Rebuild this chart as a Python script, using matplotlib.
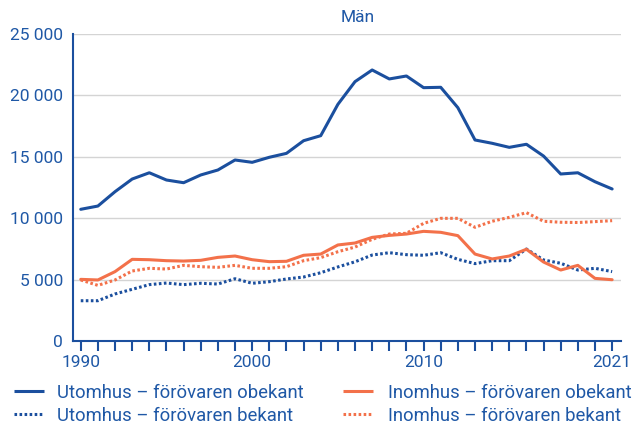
import matplotlib
matplotlib.use("Agg")
import matplotlib.pyplot as plt
from matplotlib.lines import Line2D
from matplotlib.ticker import FuncFormatter, MultipleLocator

plt.rcParams['font.family'] = ['Roboto', 'DejaVu Sans']

years = list(range(1990, 2022))

utomhus_obekant = [10725, 10990, 12160, 13190, 13700, 13110, 12890, 13520, 13925, 14740,
                   14550, 14960, 15280, 16310, 16720, 19270, 21120, 22070, 21340, 21580,
                   20630, 20660, 19000, 16370, 16100, 15770, 16020, 15060, 13600, 13700,
                   12970, 12380]
utomhus_bekant = [3280, 3280, 3830, 4210, 4590, 4720, 4590, 4700, 4640, 5070,
                  4700, 4830, 5050, 5210, 5560, 6030, 6450, 7000, 7190, 7030,
                  6980, 7190, 6650, 6300, 6540, 6540, 7490, 6600, 6330, 5780,
                  5920, 5650]
inomhus_obekant = [5020, 4970, 5650, 6650, 6620, 6540, 6510, 6570, 6810, 6920,
                   6620, 6460, 6490, 6980, 7080, 7820, 7980, 8440, 8600, 8710,
                   8930, 8850, 8580, 7080, 6680, 6920, 7470, 6430, 5780, 6160,
                   5100, 4990]
inomhus_bekant = [4970, 4530, 4970, 5700, 5920, 5860, 6160, 6050, 6000, 6160,
                  5920, 5920, 6050, 6540, 6790, 7270, 7650, 8280, 8710, 8770,
                  9580, 9990, 9990, 9260, 9750, 10070, 10450, 9750, 9670, 9650,
                  9720, 9800]

labels = ["Utomhus – förövaren obekant", "Utomhus – förövaren bekant",
          "Inomhus – förövaren obekant", "Inomhus – förövaren bekant"]
title = "Män"

BLUE = "#1b4f9e"
ORANGE = "#f3714a"
TEXT = "#1f58a6"
GRID = "#d4d4d4"

W, H = 634, 423
fig = plt.figure(figsize=(W / 100, H / 100), dpi=100)
ax = fig.add_axes([72.7 / W, 1 - 341 / H, (620.7 - 72.7) / W, (341 - 34) / H])

dot = (0, (0.85, 0.8))
series = [
    (utomhus_obekant, BLUE, '-'),
    (utomhus_bekant, BLUE, dot),
    (inomhus_obekant, ORANGE, '-'),
    (inomhus_bekant, ORANGE, dot),
]
for (vals, col, ls), lab in zip(series, labels):
    ax.plot(years, vals, color=col, lw=2.2, linestyle=ls,
            solid_capstyle='round', dash_capstyle='butt', label=lab)

ax.set_xlim(1989.53, 2021.5)
ax.set_ylim(0, 25000)
ax.yaxis.set_major_locator(MultipleLocator(5000))
ax.yaxis.set_major_formatter(FuncFormatter(lambda v, p: f"{int(v):,}".replace(",", " ")))
ax.set_xticks(years)
ax.set_xticklabels([str(y) if y in (1990, 2000, 2010, 2021) else "" for y in years])

ax.grid(axis='y', color=GRID, lw=1.0)
ax.set_axisbelow(True)
for s in ("top", "right"):
    ax.spines[s].set_visible(False)
for s in ("left", "bottom"):
    ax.spines[s].set_color(BLUE)
    ax.spines[s].set_linewidth(1.5)

ax.tick_params(axis='y', length=0, pad=7, labelsize=12.5, labelcolor=TEXT)
ax.tick_params(axis='x', length=7, width=1.5, color=BLUE, direction='out', pad=3,
               labelsize=12.5, labelcolor=TEXT)

fig.text(358 / W, 1 - 18 / H, title, ha='center', va='center', fontsize=12.5, color=TEXT)

# Two-column key below the plot: (handle start px, text start px) per column
columns = [(14, 57), (343, 388)]
rows_y = [391, 413.5]
for i, ((vals, col, ls), lab) in enumerate(zip(series, labels)):
    hx, tx = columns[i // 2]
    y = 1 - rows_y[i % 2] / H
    fig.add_artist(Line2D([hx / W, (hx + 30) / W], [y, y], transform=fig.transFigure,
                          color=col, lw=2.2, linestyle=ls,
                          solid_capstyle='butt', dash_capstyle='butt'))
    fig.text(tx / W, y, lab, ha='left', va='center_baseline', fontsize=13.3, color=TEXT)

fig.savefig("out.png", dpi=100)
